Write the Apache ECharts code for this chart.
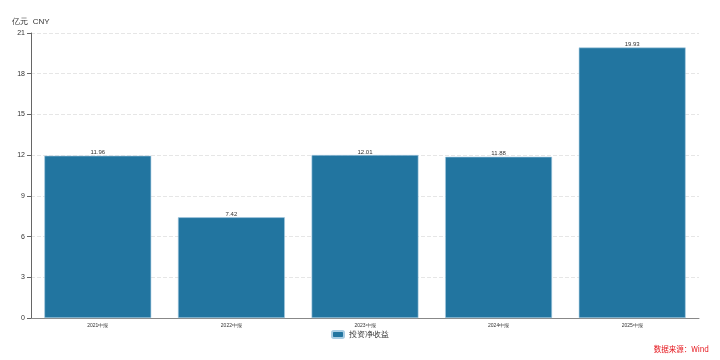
<!DOCTYPE html>
<html><head><meta charset="utf-8">
<script src="https://cdn.jsdelivr.net/npm/echarts@6/dist/echarts.min.js"></script>
<style>html,body{margin:0;padding:0;background:#fff}#c{width:720px;height:360px}</style>
</head><body><div id="c"></div>
<script>
const categories = ['2021中报','2022中报','2023中报','2024中报','2025中报'];
const values = [11.96, 7.42, 12.01, 11.88, 19.93];
const seriesName = '投资净收益';
const yTicks = {min:0, max:21, interval:3};
const chart = echarts.init(document.getElementById('c'));
chart.setOption({
  animation:false,
  grid:{left:31, right:21, top:33, bottom:42},
  legend:{top:330, left:'center', padding:0, itemWidth:12, itemHeight:7, itemGap:4, textStyle:{fontSize:8, color:'#333'}, data:[seriesName]},
  graphic:[{type:'text', right:11, bottom:7, style:{text:'数据来源：Wind', fill:'#e5141b', font:'7.5px "Noto Sans CJK SC", sans-serif'}}],
  xAxis:{type:'category', data:categories, axisLine:{lineStyle:{color:'#888', width:1}}, axisTick:{alignWithLabel:true, length:4, lineStyle:{color:'#666'}}, axisLabel:{fontSize:5, color:'#333', margin:5}},
  yAxis:{type:'value', min:yTicks.min, max:yTicks.max, interval:yTicks.interval, name:'亿元  CNY', nameGap:7, nameTextStyle:{fontSize:8, color:'#333', align:'center', padding:[0,0,0,0]},
    axisLine:{show:true, lineStyle:{color:'#666'}}, axisTick:{show:true, length:4, lineStyle:{color:'#666'}}, axisLabel:{fontSize:7, color:'#333', margin:6},
    splitLine:{lineStyle:{type:'dashed', color:'#e6e6e6'}}},
  series:[{name:seriesName, type:'bar', data:values, barWidth:'80%', itemStyle:{color:'#2275a0', borderColor:'#a9cde3', borderWidth:0.6},
    label:{show:true, position:'top', distance:0, fontSize:6, color:'#333'}}]
});
</script></body></html>
